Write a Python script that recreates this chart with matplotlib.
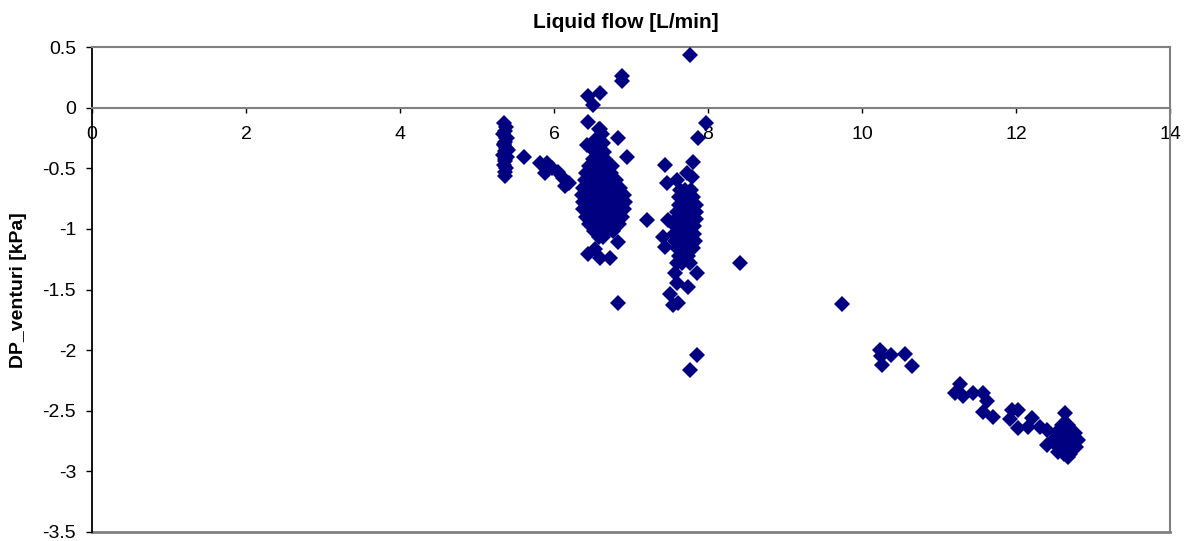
import numpy as np
import matplotlib
matplotlib.use("Agg")
import matplotlib.pyplot as plt

plt.rcParams['font.family'] = ['Liberation Sans', 'DejaVu Sans']

# liquid flow [L/min] and venturi pressure drop [kPa], grouped by operating point
flow_a = [5.35, 5.38, 5.36, 5.34, 5.39, 5.37, 5.35, 5.38, 5.36, 5.34, 5.39, 5.37,
          5.35, 5.38, 5.36, 5.37, 5.35, 5.40, 5.36, 5.38,
          5.61, 5.82, 5.91, 5.88, 5.98, 6.05, 6.12, 6.14, 6.20]
dp_a = [-0.13, -0.16, -0.19, -0.22, -0.25, -0.28, -0.31, -0.33, -0.36, -0.39, -0.41, -0.44,
        -0.47, -0.50, -0.53, -0.56, -0.30, -0.35, -0.42, -0.25,
        -0.41, -0.46, -0.46, -0.54, -0.50, -0.53, -0.58, -0.65, -0.62]

flow_b = [6.44, 6.60, 6.51, 6.88, 6.88, 6.44, 6.60, 6.83, 6.43, 6.95,
          6.58, 6.62, 6.55, 6.63, 6.57, 6.52, 6.65,
          6.50, 6.58, 6.66,
          6.45, 6.53, 6.61, 6.69, 6.75,
          6.42, 6.50, 6.58, 6.66, 6.74,
          6.40, 6.48, 6.56, 6.64, 6.72, 6.80,
          6.38, 6.46, 6.54, 6.62, 6.70, 6.78, 6.86,
          6.37, 6.45, 6.53, 6.61, 6.69, 6.77, 6.85, 6.91,
          6.38, 6.46, 6.54, 6.62, 6.70, 6.78, 6.86, 6.92,
          6.38, 6.46, 6.54, 6.62, 6.70, 6.78, 6.86, 6.91,
          6.42, 6.50, 6.58, 6.66, 6.74, 6.82, 6.88,
          6.46, 6.54, 6.62, 6.70, 6.78, 6.84,
          6.52, 6.60, 6.68, 6.76,
          6.58, 6.64,
          6.83, 6.44, 6.60, 6.73, 6.53, 6.83, 7.21]
dp_b = [0.10, 0.12, 0.02, 0.26, 0.22, -0.12, -0.18, -0.25, -0.31, -0.41,
        -0.18, -0.22, -0.26, -0.29, -0.33, -0.36, -0.37,
        -0.42, -0.42, -0.42,
        -0.48, -0.48, -0.48, -0.48, -0.48,
        -0.54, -0.54, -0.54, -0.54, -0.54,
        -0.60, -0.60, -0.60, -0.60, -0.60, -0.60,
        -0.66, -0.66, -0.66, -0.66, -0.66, -0.66, -0.66,
        -0.72, -0.72, -0.72, -0.72, -0.72, -0.72, -0.72, -0.72,
        -0.78, -0.78, -0.78, -0.78, -0.78, -0.78, -0.78, -0.78,
        -0.84, -0.84, -0.84, -0.84, -0.84, -0.84, -0.84, -0.84,
        -0.90, -0.90, -0.90, -0.90, -0.90, -0.90, -0.90,
        -0.96, -0.96, -0.96, -0.96, -0.96, -0.96,
        -1.02, -1.02, -1.02, -1.02,
        -1.07, -1.07,
        -1.11, -1.21, -1.24, -1.24, -1.17, -1.61, -0.93]

flow_c = [7.77, 7.97, 7.87, 7.44, 7.47, 7.81, 7.79, 7.60, 7.73,
          7.63, 7.70, 7.78,
          7.62, 7.68, 7.74, 7.80,
          7.62, 7.68, 7.74, 7.80, 7.84,
          7.60, 7.66, 7.72, 7.78, 7.84,
          7.58, 7.64, 7.70, 7.76, 7.84,
          7.57, 7.63, 7.69, 7.75, 7.82,
          7.56, 7.62, 7.68, 7.74, 7.82,
          7.57, 7.63, 7.69, 7.75, 7.83,
          7.60, 7.66, 7.72, 7.80,
          7.62, 7.68, 7.74,
          7.60, 7.66, 7.76,
          7.48, 7.42, 7.44, 7.86, 7.74, 7.51, 7.55, 7.61, 7.57, 7.60,
          7.86, 7.77]
dp_c = [0.43, -0.13, -0.25, -0.47, -0.62, -0.45, -0.57, -0.60, -0.54,
        -0.68, -0.68, -0.68,
        -0.74, -0.74, -0.74, -0.74,
        -0.80, -0.80, -0.80, -0.80, -0.80,
        -0.86, -0.86, -0.86, -0.86, -0.86,
        -0.92, -0.92, -0.92, -0.92, -0.92,
        -0.98, -0.98, -0.98, -0.98, -0.98,
        -1.04, -1.04, -1.04, -1.04, -1.04,
        -1.10, -1.10, -1.10, -1.10, -1.10,
        -1.16, -1.16, -1.16, -1.16,
        -1.22, -1.22, -1.22,
        -1.28, -1.28, -1.28,
        -0.93, -1.07, -1.15, -1.36, -1.48, -1.54, -1.63, -1.61, -1.36, -1.45,
        -2.04, -2.16]

flow_d = [8.42, 9.74, 10.23, 10.25, 10.26, 10.38, 10.56, 10.65]
dp_d = [-1.28, -1.62, -2.00, -2.05, -2.12, -2.04, -2.03, -2.13]

flow_e = [11.27, 11.21, 11.31, 11.44, 11.57, 11.62, 11.57, 11.70, 11.95, 12.03,
          11.92, 12.03, 12.21, 12.16, 12.31, 12.40, 12.40, 12.55, 12.68,
          12.64,
          12.60, 12.68,
          12.52, 12.60, 12.68, 12.76,
          12.48, 12.56, 12.64, 12.72, 12.80,
          12.54, 12.62, 12.70, 12.78,
          12.62, 12.70]
dp_e = [-2.28, -2.35, -2.38, -2.35, -2.35, -2.42, -2.51, -2.55, -2.49, -2.49,
        -2.57, -2.64, -2.56, -2.63, -2.63, -2.66, -2.78, -2.84, -2.88,
        -2.52,
        -2.62, -2.62,
        -2.68, -2.68, -2.68, -2.68,
        -2.74, -2.74, -2.74, -2.74, -2.74,
        -2.80, -2.80, -2.80, -2.80,
        -2.86, -2.86]

flow = np.concatenate([flow_a, flow_b, flow_c, flow_d, flow_e])
dp = np.concatenate([dp_a, dp_b, dp_c, dp_d, dp_e])

x_ticks = [0, 2, 4, 6, 8, 10, 12, 14]
y_ticks = [-3.5, -3, -2.5, -2, -1.5, -1, -0.5, 0, 0.5]

fig = plt.figure(figsize=(11.88, 5.41), dpi=100)
ax = fig.add_axes([92 / 1188, 9 / 541, 1078 / 1188, 485 / 541])

ax.plot(flow, dp, linestyle='none', marker='D', markersize=8.6,
        color='#000080', markeredgewidth=0, zorder=3, clip_on=False)

ax.set_xlim(0, 14)
ax.set_ylim(-3.5, 0.5)

gray = '#808080'
ax.spines['bottom'].set_position(('data', 0))
ax.spines['bottom'].set_color(gray)
ax.spines['bottom'].set_linewidth(1.5)
ax.spines['top'].set_color(gray)
ax.spines['top'].set_linewidth(1.5)
ax.spines['right'].set_color(gray)
ax.spines['right'].set_linewidth(1.5)
ax.spines['left'].set_color('black')
ax.spines['left'].set_linewidth(1.3)
ax.axhline(-3.5, color=gray, linewidth=2.0, zorder=1, clip_on=False)

ax.set_xticks(x_ticks)
ax.set_xticklabels([str(v) for v in x_ticks])
ax.set_yticks(y_ticks)
ax.set_yticklabels([('%g' % v) for v in y_ticks])
ax.tick_params(axis='x', direction='out', length=3.5, width=1, color='black',
               labelsize=14, pad=10)
ax.tick_params(axis='y', direction='out', length=4.5, width=1, color='black',
               labelsize=14, pad=7)

fig.text(626 / 1188, 1 - 22 / 541, 'Liquid flow [L/min]', ha='center', va='center',
         fontsize=15, fontweight='bold')
fig.text(19 / 1188, 1 - 290 / 541, 'DP_venturi [kPa]', ha='center', va='center',
         rotation=90, fontsize=14, fontweight='bold')

fig.savefig('out.png', dpi=100, facecolor='white')
